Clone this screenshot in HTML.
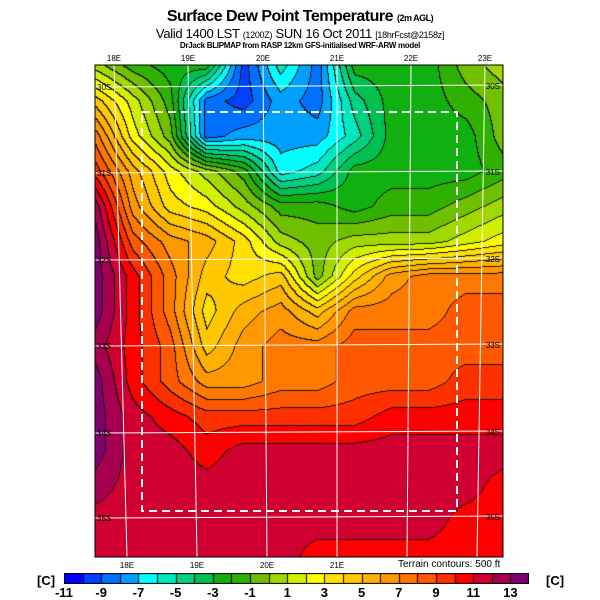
<!DOCTYPE html>
<html><head><meta charset="utf-8"><style>
body{margin:0;background:#fff;width:600px;height:600px;overflow:hidden;position:relative;font-family:"Liberation Sans",sans-serif}
.t{position:absolute;white-space:nowrap;color:#000}
</style></head><body>
<div class="t" style="left:0;width:600px;text-align:center;top:8px;font-size:16px;font-weight:bold;letter-spacing:-0.5px">Surface Dew Point Temperature <span style="font-size:9px">(2m AGL)</span></div>
<div class="t" style="left:0;width:600px;text-align:center;top:26px;font-size:13px;letter-spacing:-0.3px">Valid 1400 LST <span style="font-size:9px">(1200Z)</span> SUN 16 Oct 2011 <span style="font-size:9px">[18hrFcst@2158z]</span></div>
<div class="t" style="left:0;width:600px;text-align:center;top:41px;font-size:8px;font-weight:bold;letter-spacing:-0.3px">DrJack BLIPMAP from RASP 12km GFS-initialised WRF-ARW model</div>
<canvas id="map" width="408" height="492" style="position:absolute;left:95px;top:65px"></canvas>
<svg id="ov" width="600" height="600" style="position:absolute;left:0;top:0"></svg>
<canvas id="cb" width="465" height="11" style="position:absolute;left:64px;top:573px"></canvas>
<div class="t" style="left:37px;top:573px;font-size:13px;font-weight:bold">[C]</div>
<div class="t" style="left:546px;top:573px;font-size:13px;font-weight:bold">[C]</div>
<div class="t" style="left:398px;top:559px;font-size:10px">Terrain contours: 500 ft</div>
<div id="cbl"></div>
<script>
const levels=[-11,-10,-9,-8,-7,-6,-5,-4,-3,-2,-1,0,1,2,3,4,5,6,7,8,9,10,11,12,13];
const colors=["#0000ff","#0040ff","#0070ff","#00a0ff","#00ffff","#00e8c0","#00d080","#00c050","#10b010","#30b000","#70c000","#a0d800","#d0f000","#ffff00","#ffe000","#ffc800","#ffb000","#ff9800","#ff7800","#ff5800","#ff3000","#ff0000","#d00030","#a80050","#800070"];
const cbLabels=[-11,-9,-7,-5,-3,-1,1,3,5,7,9,11,13];
const grid=[
[0,-2,-3,-3,-10,-6,-9,-3,-3,-3,-1,0],
[4,1,-2,-9,-10,-8,-9,-5,-3,-3,-2,-1],
[7,2,-1,-9,-8,-8,-8,-6,-3,-3,-3,-1],
[9,5,2,0,-2,-7,-6,-3,-3,-3,-3,-2],
[12,6,3,2,0,-2,-2,-3,-2,-2,-1,0],
[13,8,6,5,3,0,-1,0,0,0,1,2],
[13,10,7,4,3,4,-1,3,6,7,7,7],
[13,10,7,3,5,6,4,7,7,7,8,8],
[12,10,8,4,6,7,7,8,8,8,8,8],
[13,10,8,6,6,7,7,8,8,8,9,9],
[13,11,10,9,9,9,9,9,10,10,10,10],
[13,11,11,10,11,11,11,11,11,11,11,11],
[12,11,11,11,11,11,11,11,11,11,11,10],
[11,11,11,11,11,11,11,11,11,11,10,10],
[11,11,11,11,11,11,10,10,10,10,10,10]];
const lonLabels=["18E","19E","20E","21E","22E","23E"];
const latLabels=["30S","31S","32S","33S","34S","35S"];
const W=408,H=492,R=grid.length,C=grid[0].length;
function val(x,y){const gx=x/(W-1)*(C-1),gy=y/(H-1)*(R-1);const i=Math.min(Math.floor(gx),C-2),j=Math.min(Math.floor(gy),R-2);const fx=gx-i,fy=gy-j;
return grid[j][i]*(1-fx)*(1-fy)+grid[j][i+1]*fx*(1-fy)+grid[j+1][i]*(1-fx)*fy+grid[j+1][i+1]*fx*fy;}
function idx(v){return Math.max(0,Math.min(levels.length-1,Math.floor(v+0.5)-levels[0]));}
function rgb(h){return[parseInt(h.substr(1,2),16),parseInt(h.substr(3,2),16),parseInt(h.substr(5,2),16)];}
const cr=colors.map(rgb);
const ctx=document.getElementById('map').getContext('2d');
const im=ctx.createImageData(W,H);const ids=new Int16Array(W*H);
for(let y=0;y<H;y++)for(let x=0;x<W;x++)ids[y*W+x]=idx(val(x,y));
for(let y=0;y<H;y++)for(let x=0;x<W;x++){const k=y*W+x,c=cr[ids[k]];let b=false;
if(x>0&&ids[k-1]!==ids[k])b=true;if(y>0&&ids[k-W]!==ids[k])b=true;
const o=k*4;if(b){im.data[o]=20;im.data[o+1]=20;im.data[o+2]=20}else{im.data[o]=c[0];im.data[o+1]=c[1];im.data[o+2]=c[2]}im.data[o+3]=255;}
ctx.putImageData(im,0,0);
const cb=document.getElementById('cb').getContext('2d');const sw=465/colors.length;
colors.forEach((c,i)=>{cb.fillStyle=c;cb.fillRect(i*sw,0,sw+0.5,11);});
cb.strokeStyle="#000";cb.lineWidth=1;cb.strokeRect(0.5,0.5,464,10);
for(let i=1;i<colors.length;i++){cb.beginPath();cb.moveTo(Math.round(i*sw)+0.5,0);cb.lineTo(Math.round(i*sw)+0.5,11);cb.stroke();}
const cbl=document.getElementById('cbl');
cbLabels.forEach(v=>{const d=document.createElement('div');d.className='t';


d.style.cssText='top:585px;font-size:13px;font-weight:bold;width:30px;text-align:center;left:'+(64+(v-levels[0])*sw-15)+'px';d.textContent=v;cbl.appendChild(d);});
const ov=document.getElementById('ov');const NS="http://www.w3.org/2000/svg";
function el(t,a){const e=document.createElementNS(NS,t);for(const k in a)e.setAttribute(k,a[k]);ov.appendChild(e);return e;}
const topX=[114,188,263,337,411,485],botX=[127,197,267,337,407,477],latY=[87,173,260,346,433,518];
topX.forEach((x,i)=>{const l=el('line',{x1:x,y1:65,x2:botX[i],y2:557,stroke:'#fff','stroke-width':1});


const t=el('text',{x:x,y:61,'font-size':8,'text-anchor':'middle','font-family':'Liberation Sans'});t.textContent=lonLabels[i];


if(i<4){const b=el('text',{x:botX[i],y:568,'font-size':8,'text-anchor':'middle','font-family':'Liberation Sans'});b.textContent=lonLabels[i];

}});
latY.forEach((y,i)=>{const l=el('line',{x1:95,y1:y,x2:503,y2:y-2,stroke:'#fff','stroke-width':1});


const a=el('text',{x:97,y:y+3,'font-size':8,'font-family':'Liberation Sans'});a.textContent=latLabels[i];


const b=el('text',{x:500,y:y+2,'font-size':8,'text-anchor':'end','font-family':'Liberation Sans'});b.textContent=latLabels[i];

});
const r=el('rect',{x:142,y:112,width:315,height:399,fill:'none',stroke:'#fff','stroke-width':2,'stroke-dasharray':'8,5'});


const f=el('rect',{x:95,y:65,width:408,height:492,fill:'none',stroke:'#000','stroke-width':1});


</script>
</body></html>
